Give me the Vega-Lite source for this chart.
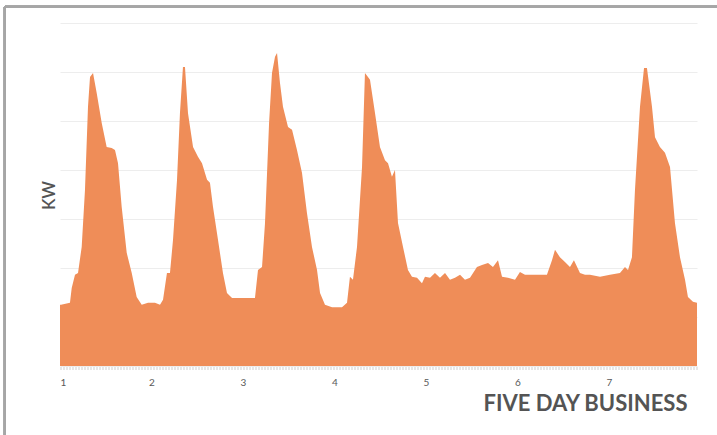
{
  "$schema": "https://vega.github.io/schema/vega-lite/v6.json",
  "width": 637,
  "height": 343,
  "padding": {"left": 60, "top": 23, "right": 20, "bottom": 69},
  "autosize": {"type": "none"},
  "background": "#ffffff",
  "config": {
    "view": {"stroke": null},
    "font": "Lato"
  },
  "data": {
    "values": [
      {"d": 1.000, "kw": 1.25}, {"d": 1.011, "kw": 1.25}, {"d": 1.109, "kw": 1.29},
      {"d": 1.128, "kw": 1.59}, {"d": 1.164, "kw": 1.86}, {"d": 1.197, "kw": 1.90},
      {"d": 1.237, "kw": 2.43}, {"d": 1.273, "kw": 3.59}, {"d": 1.306, "kw": 5.29},
      {"d": 1.328, "kw": 5.90}, {"d": 1.361, "kw": 5.98}, {"d": 1.401, "kw": 5.57},
      {"d": 1.456, "kw": 4.96}, {"d": 1.510, "kw": 4.47}, {"d": 1.565, "kw": 4.45},
      {"d": 1.601, "kw": 4.41}, {"d": 1.634, "kw": 4.14}, {"d": 1.674, "kw": 3.25},
      {"d": 1.729, "kw": 2.31}, {"d": 1.784, "kw": 1.90}, {"d": 1.838, "kw": 1.41},
      {"d": 1.893, "kw": 1.25}, {"d": 1.962, "kw": 1.29}, {"d": 2.038, "kw": 1.29},
      {"d": 2.093, "kw": 1.25}, {"d": 2.126, "kw": 1.35}, {"d": 2.169, "kw": 1.90},
      {"d": 2.202, "kw": 1.90}, {"d": 2.235, "kw": 2.57}, {"d": 2.279, "kw": 3.80},
      {"d": 2.311, "kw": 5.16}, {"d": 2.344, "kw": 6.10}, {"d": 2.366, "kw": 6.10},
      {"d": 2.399, "kw": 5.16}, {"d": 2.454, "kw": 4.47}, {"d": 2.508, "kw": 4.27},
      {"d": 2.552, "kw": 4.14}, {"d": 2.607, "kw": 3.80}, {"d": 2.639, "kw": 3.74},
      {"d": 2.672, "kw": 3.25}, {"d": 2.727, "kw": 2.57}, {"d": 2.781, "kw": 1.90},
      {"d": 2.825, "kw": 1.49}, {"d": 2.880, "kw": 1.39}, {"d": 2.967, "kw": 1.39},
      {"d": 3.077, "kw": 1.39}, {"d": 3.131, "kw": 1.39}, {"d": 3.164, "kw": 1.96},
      {"d": 3.208, "kw": 2.02}, {"d": 3.240, "kw": 2.90}, {"d": 3.262, "kw": 3.90},
      {"d": 3.285, "kw": 4.96}, {"d": 3.317, "kw": 5.98}, {"d": 3.350, "kw": 6.31},
      {"d": 3.372, "kw": 6.39}, {"d": 3.404, "kw": 5.78}, {"d": 3.437, "kw": 5.29},
      {"d": 3.492, "kw": 4.88}, {"d": 3.536, "kw": 4.82}, {"d": 3.590, "kw": 4.41},
      {"d": 3.645, "kw": 3.94}, {"d": 3.699, "kw": 3.12}, {"d": 3.754, "kw": 2.43},
      {"d": 3.809, "kw": 1.96}, {"d": 3.842, "kw": 1.49}, {"d": 3.896, "kw": 1.25},
      {"d": 3.973, "kw": 1.20}, {"d": 4.082, "kw": 1.20}, {"d": 4.137, "kw": 1.29},
      {"d": 4.169, "kw": 1.82}, {"d": 4.202, "kw": 1.76}, {"d": 4.246, "kw": 2.43},
      {"d": 4.301, "kw": 4.06}, {"d": 4.333, "kw": 5.98}, {"d": 4.366, "kw": 5.90},
      {"d": 4.388, "kw": 5.84}, {"d": 4.443, "kw": 5.16}, {"d": 4.497, "kw": 4.47},
      {"d": 4.552, "kw": 4.20}, {"d": 4.585, "kw": 4.14}, {"d": 4.628, "kw": 3.86},
      {"d": 4.661, "kw": 4.00}, {"d": 4.694, "kw": 2.92}, {"d": 4.749, "kw": 2.43},
      {"d": 4.803, "kw": 1.96}, {"d": 4.847, "kw": 1.82}, {"d": 4.902, "kw": 1.80},
      {"d": 4.956, "kw": 1.69}, {"d": 4.989, "kw": 1.82}, {"d": 5.044, "kw": 1.80},
      {"d": 5.098, "kw": 1.90}, {"d": 5.153, "kw": 1.80}, {"d": 5.208, "kw": 1.90},
      {"d": 5.262, "kw": 1.76}, {"d": 5.317, "kw": 1.80}, {"d": 5.372, "kw": 1.86},
      {"d": 5.426, "kw": 1.76}, {"d": 5.481, "kw": 1.80}, {"d": 5.557, "kw": 2.02},
      {"d": 5.612, "kw": 2.06}, {"d": 5.678, "kw": 2.10}, {"d": 5.732, "kw": 2.02},
      {"d": 5.787, "kw": 2.16}, {"d": 5.831, "kw": 1.82}, {"d": 5.896, "kw": 1.80},
      {"d": 5.973, "kw": 1.76}, {"d": 6.027, "kw": 1.92}, {"d": 6.082, "kw": 1.86},
      {"d": 6.158, "kw": 1.86}, {"d": 6.224, "kw": 1.86}, {"d": 6.322, "kw": 1.86},
      {"d": 6.377, "kw": 2.16}, {"d": 6.410, "kw": 2.37}, {"d": 6.464, "kw": 2.22},
      {"d": 6.519, "kw": 2.12}, {"d": 6.574, "kw": 2.02}, {"d": 6.617, "kw": 2.16},
      {"d": 6.683, "kw": 1.90}, {"d": 6.738, "kw": 1.86}, {"d": 6.792, "kw": 1.86},
      {"d": 6.902, "kw": 1.82}, {"d": 7.011, "kw": 1.86}, {"d": 7.120, "kw": 1.90},
      {"d": 7.175, "kw": 2.02}, {"d": 7.208, "kw": 1.96}, {"d": 7.251, "kw": 2.22},
      {"d": 7.284, "kw": 3.59}, {"d": 7.339, "kw": 5.29}, {"d": 7.383, "kw": 6.08},
      {"d": 7.415, "kw": 6.08}, {"d": 7.470, "kw": 5.29}, {"d": 7.503, "kw": 4.67},
      {"d": 7.557, "kw": 4.47}, {"d": 7.612, "kw": 4.35}, {"d": 7.667, "kw": 4.06},
      {"d": 7.721, "kw": 2.92}, {"d": 7.776, "kw": 2.22}, {"d": 7.831, "kw": 1.76},
      {"d": 7.863, "kw": 1.41}, {"d": 7.918, "kw": 1.31}, {"d": 7.962, "kw": 1.29}
    ]
  },
  "layer": [
    {
      "mark": {"type": "area", "color": "#EF8D58", "interpolate": "linear"},
      "encoding": {
        "x": {
          "field": "d",
          "type": "quantitative",
          "scale": {"domain": [1, 7.962], "nice": false, "zero": false},
          "axis": {
            "values": [1, 2, 3, 4, 5, 6, 7],
            "format": "d",
            "grid": false,
            "ticks": false,
            "domain": true,
            "domainColor": "#d0d0d0",
            "domainWidth": 3,
            "domainDash": [1, 2],
            "offset": 2,
            "labelFontSize": 10,
            "labelColor": "#595959",
            "labelPadding": 9,
            "title": "FIVE DAY BUSINESS",
            "titleFontSize": 22,
            "titleFontWeight": "bold",
            "titleColor": "#545454",
            "titleAnchor": "end",
            "titleAlign": "right",
            "titleBaseline": "middle",
            "titleX": 627,
            "titleY": 35
          }
        },
        "y": {
          "field": "kw",
          "type": "quantitative",
          "scale": {"domain": [0, 7], "nice": false},
          "axis": {
            "values": [0, 1, 2, 3, 4, 5, 6, 7],
            "labels": false,
            "ticks": false,
            "domain": false,
            "grid": true,
            "gridColor": "#ededed",
            "gridWidth": 1,
            "title": "KW",
            "titleFontSize": 17,
            "titleFontWeight": 600,
            "titleColor": "#545454",
            "titleAngle": -90,
            "titleAlign": "center",
            "titleBaseline": "middle",
            "titleX": -11,
            "titleY": 172
          }
        }
      }
    },
    {
      "mark": {"type": "rule", "color": "#a6a6a6", "strokeWidth": 2, "clip": false},
      "encoding": {
        "x": {"datum": 0.398, "type": "quantitative"},
        "y": {"datum": 7.33, "type": "quantitative"},
        "y2": {"datum": -1.5}
      }
    },
    {
      "mark": {"type": "rule", "color": "#a6a6a6", "strokeWidth": 2, "clip": false},
      "encoding": {
        "x": {"datum": 0.398, "type": "quantitative"},
        "x2": {"datum": 8.2},
        "y": {"datum": 7.33, "type": "quantitative"}
      }
    }
  ]
}
